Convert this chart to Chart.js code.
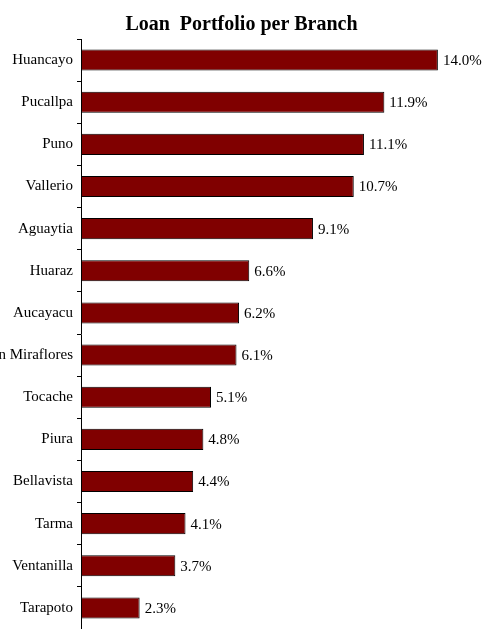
<!DOCTYPE html>
<html>
<head>
<meta charset="utf-8">
<script src="https://cdn.jsdelivr.net/npm/chart.js@4/dist/chart.umd.min.js"></script>
<style>
  html, body { margin: 0; padding: 0; background: #fff; }
  #wrap { width: 483px; height: 629px; }
</style>
</head>
<body>
<div id="wrap"><canvas id="chart" width="483" height="629"></canvas></div>
<script>
const branches = ['Huancayo', 'Pucallpa', 'Puno', 'Vallerio', 'Aguaytia', 'Huaraz', 'Aucayacu',
    'San Miraflores', 'Tocache', 'Piura', 'Bellavista', 'Tarma', 'Ventanilla', 'Tarapoto'];
const shares = [14.0, 11.9, 11.1, 10.7, 9.1, 6.6, 6.2, 6.1, 5.1, 4.8, 4.4, 4.1, 3.7, 2.3];

// draws the % value just past the end of each bar
const valueLabels = {
    id: 'valueLabels',
    afterDatasetsDraw(chart) {
        const ctx = chart.ctx;
        const meta = chart.getDatasetMeta(0);
        ctx.save();
        ctx.font = '15px "Liberation Serif", "Times New Roman", serif';
        ctx.fillStyle = '#000';
        ctx.textAlign = 'left';
        ctx.textBaseline = 'middle';
        meta.data.forEach((bar, i) => {
            ctx.fillText(shares[i].toFixed(1) + '%', bar.x + 5, bar.y + 1);
        });
        ctx.restore();
    }
};

const ctx = document.getElementById('chart');
new Chart(ctx, {
    type: 'bar',
    data: {
        labels: branches,
        datasets: [{
            data: shares,
            backgroundColor: '#800000',
            borderColor: '#000',
            borderWidth: 1,
            borderSkipped: false,
            barPercentage: 0.5,
            categoryPercentage: 1.0
        }]
    },
    options: {
        indexAxis: 'y',
        responsive: false,
        animation: false,
        layout: { padding: 0 },
        plugins: {
            legend: { display: false },
            tooltip: { enabled: false },
            title: {
                display: true,
                text: 'Loan  Portfolio per Branch',
                color: '#000',
                font: { family: '"Liberation Serif", "Times New Roman", serif', size: 20, weight: 'bold' },
                padding: { top: 13, bottom: 2 }
            }
        },
        scales: {
            x: {
                display: false,
                min: 0,
                max: 15.77
            },
            y: {
                afterFit(scale) {
                    scale.width = 81;
                    scale.paddingTop = 0;
                    scale.paddingBottom = 0;
                },
                grid: {
                    offset: true,
                    drawOnChartArea: false,
                    drawTicks: true,
                    tickLength: 4,
                    color: '#000'
                },
                border: { display: true, color: '#000', width: 1 },
                ticks: {
                    color: '#000',
                    padding: 4,
                    font: { family: '"Liberation Serif", "Times New Roman", serif', size: 15 }
                }
            }
        }
    },
    plugins: [valueLabels]
});
</script>
</body>
</html>
